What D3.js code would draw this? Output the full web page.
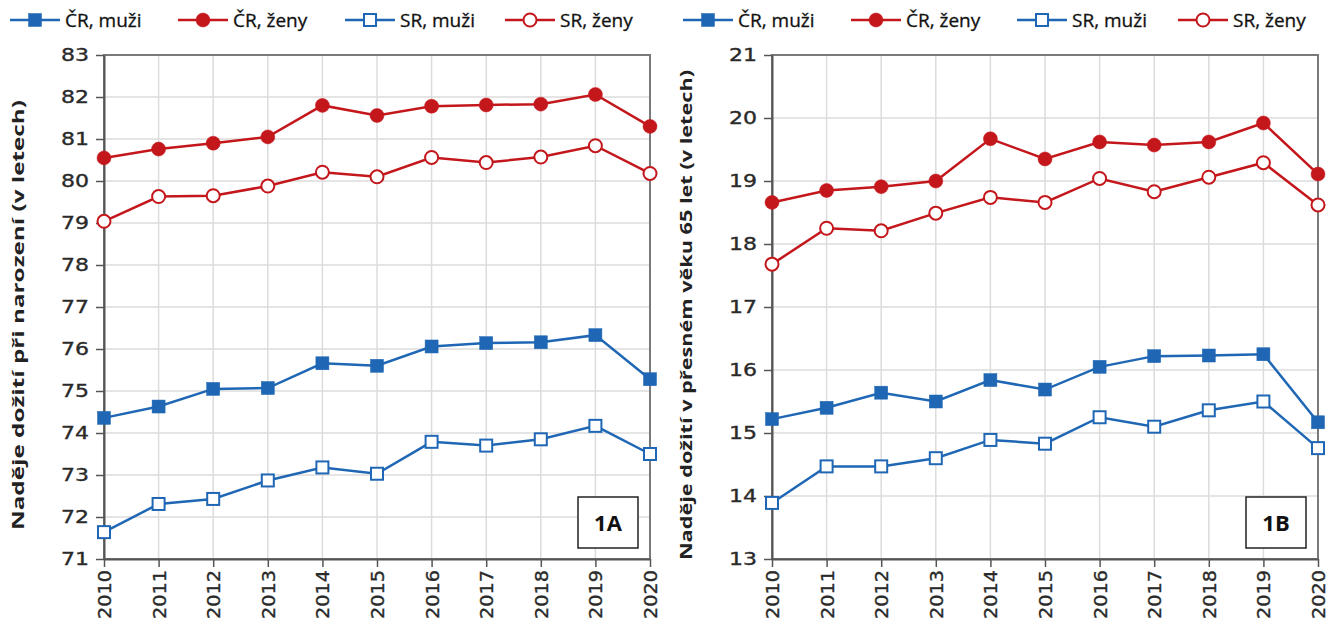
<!DOCTYPE html>
<html><head><meta charset="utf-8">
<script src="https://cdn.jsdelivr.net/npm/d3@7"></script>
<style>
body{margin:0;background:#fff;}
svg{display:block;}
</style></head>
<body>
<svg id="chart" width="1338" height="626"></svg>
<script>
const years = [2010,2011,2012,2013,2014,2015,2016,2017,2018,2019,2020];
// Panel 1A – life expectancy at birth
const crMenA   = [74.36,74.63,75.05,75.07,75.66,75.60,76.06,76.14,76.16,76.33,75.28];
const crWomenA = [80.55,80.76,80.90,81.05,81.80,81.56,81.78,81.81,81.83,82.06,81.30];
const srMenA   = [71.64,72.31,72.43,72.87,73.18,73.03,73.79,73.70,73.85,74.17,73.50];
const srWomenA = [79.04,79.63,79.65,79.88,80.21,80.10,80.56,80.44,80.57,80.84,80.18];
const yTicksA  = [71,72,73,74,75,76,77,78,79,80,81,82,83];
// Panel 1B – life expectancy at exact age 65
const crMenB   = [15.22,15.40,15.64,15.50,15.84,15.69,16.05,16.22,16.23,16.25,15.17];
const crWomenB = [18.66,18.85,18.91,19.00,19.67,19.35,19.62,19.57,19.62,19.92,19.11];
const srMenB   = [13.89,14.47,14.47,14.60,14.89,14.83,15.25,15.10,15.36,15.50,14.76];
const srWomenB = [17.68,18.25,18.21,18.49,18.74,18.66,19.04,18.83,19.06,19.29,18.62];
const yTicksB  = [13,14,15,16,17,18,19,20,21];

const seriesNames = ["ČR, muži","ČR, ženy","SR, muži","SR, ženy"];
const titleA = "Naděje dožití při narození (v letech)";
const titleB = "Naděje dožití v přesném věku 65 let (v letech)";
const labelA = "1A", labelB = "1B";

const BLUE = "#1f67b4", RED = "#c4171c";
const styles = [
  {color:BLUE, shape:"square", filled:true},
  {color:RED,  shape:"circle", filled:true},
  {color:BLUE, shape:"square", filled:false},
  {color:RED,  shape:"circle", filled:false}
];

const svg = d3.select("#chart");

function drawMarker(g, cx, cy, st){
  if(st.shape==="square"){
    const s = st.filled ? 13 : 12;
    g.append("rect").attr("x",cx-s/2).attr("y",cy-s/2).attr("width",s).attr("height",s)
      .attr("fill", st.filled?st.color:"#fff").attr("stroke",st.color).attr("stroke-width",st.filled?0.5:2);
  } else {
    g.append("circle").attr("cx",cx).attr("cy",cy).attr("r",st.filled?7:6.5)
      .attr("fill", st.filled?st.color:"#fff").attr("stroke",st.color).attr("stroke-width",st.filled?0.5:2);
  }
}

function panel(cfg){
  const {x0,x1,y0,y1,domain,ticks,data,title,titleX,titleLen,label,legendX} = cfg;
  const x = d3.scaleLinear().domain([years[0],years[years.length-1]]).range([x0,x1]);
  const y = d3.scaleLinear().domain(domain).range([y1,y0]);
  const g = svg.append("g");

  // grid
  g.append("g").selectAll("line.v").data(years).join("line")
    .attr("x1",d=>x(d)).attr("x2",d=>x(d)).attr("y1",y0).attr("y2",y1)
    .attr("stroke","#dcdcdc").attr("stroke-width",1.5);
  g.append("g").selectAll("line.h").data(ticks).join("line")
    .attr("x1",x0).attr("x2",x1).attr("y1",d=>y(d)).attr("y2",d=>y(d))
    .attr("stroke","#dcdcdc").attr("stroke-width",1.5);
  // frame
  g.append("rect").attr("x",x0).attr("y",y0).attr("width",x1-x0).attr("height",y1-y0)
    .attr("fill","none").attr("stroke","#7a7a7a").attr("stroke-width",2);

  // axes
  const ya = g.append("g").attr("transform",`translate(${x0},0)`)
    .call(d3.axisLeft(y).tickValues(ticks).tickSize(8).tickSizeOuter(0).tickPadding(7));
  ya.select(".domain").attr("stroke","#555").attr("stroke-width",2);
  ya.selectAll(".tick line").attr("stroke","#555").attr("stroke-width",1.5);
  ya.selectAll(".tick text").attr("font-family","DejaVu Sans").attr("font-size",17)
    .attr("fill","#2a2a2a").attr("stroke","#2a2a2a").attr("stroke-width",0.35)
    .attr("textLength",d=>String(d).length*14).attr("lengthAdjust","spacingAndGlyphs");

  const xa = g.append("g").attr("transform",`translate(0,${y1})`)
    .call(d3.axisBottom(x).tickValues(years).tickFormat(d3.format("d")).tickSize(8).tickSizeOuter(0));
  xa.select(".domain").attr("stroke","#555").attr("stroke-width",2);
  xa.selectAll(".tick line").attr("stroke","#555").attr("stroke-width",1.5);
  xa.selectAll(".tick text").attr("font-family","DejaVu Sans").attr("font-size",18)
    .attr("fill","#2a2a2a").attr("stroke","#2a2a2a").attr("stroke-width",0.35)
    .attr("text-anchor","end").attr("dy","0.36em")
    .attr("transform","translate(0,2) rotate(-90)").attr("x",-9).attr("y",0)
    .attr("textLength",49).attr("lengthAdjust","spacingAndGlyphs");

  // title
  g.append("text").attr("transform",`translate(${titleX},${(y0+y1)/2+8}) rotate(-90)`)
    .attr("text-anchor","middle").attr("font-family","Open Sans").attr("font-weight","bold")
    .attr("font-size",16).attr("fill","#222").attr("textLength",titleLen).attr("lengthAdjust","spacingAndGlyphs")
    .text(title);

  // series
  const line = d3.line().x((d,i)=>x(years[i])).y(d=>y(d));
  data.forEach((vals,k)=>{
    const st = styles[k];
    g.append("path").attr("d",line(vals)).attr("fill","none").attr("stroke",st.color).attr("stroke-width",2.5);
  });
  data.forEach((vals,k)=>{
    const st = styles[k];
    const mg = g.append("g");
    vals.forEach((v,i)=>drawMarker(mg,x(years[i]),y(v),st));
  });

  // panel label box
  g.append("rect").attr("x",x1-72).attr("y",497).attr("width",60).attr("height",51)
    .attr("fill","#fff").attr("stroke","#222").attr("stroke-width",1.5);
  g.append("text").attr("x",x1-42).attr("y",531).attr("text-anchor","middle")
    .attr("font-family","Open Sans").attr("font-weight","bold").attr("font-size",22).attr("fill","#111")
    .text(label);

  // legend
  seriesNames.forEach((name,k)=>{
    const st = styles[k];
    const lx = legendX[k], ly = 20;
    const lg = g.append("g");
    lg.append("line").attr("x1",lx).attr("x2",lx+50).attr("y1",ly).attr("y2",ly)
      .attr("stroke",st.color).attr("stroke-width",2.5);
    drawMarker(lg,lx+25,ly,st);
    lg.append("text").attr("x",lx+55).attr("y",ly+7).attr("font-family","Open Sans")
      .attr("font-size",19).attr("fill","#111").attr("stroke","#111").attr("stroke-width",0.3)
      .text(name);
  });
}

panel({x0:104,x1:650,y0:55,y1:559,domain:[71,83],ticks:yTicksA,
  data:[crMenA,crWomenA,srMenA,srWomenA],title:titleA,titleX:24,titleLen:430,label:labelA,
  legendX:[10,178,345,505]});
panel({x0:772,x1:1318,y0:55,y1:559,domain:[13,21],ticks:yTicksB,
  data:[crMenB,crWomenB,srMenB,srWomenB],title:titleB,titleX:692,titleLen:490,label:labelB,
  legendX:[683,851,1017,1178]});
</script>
</body></html>
